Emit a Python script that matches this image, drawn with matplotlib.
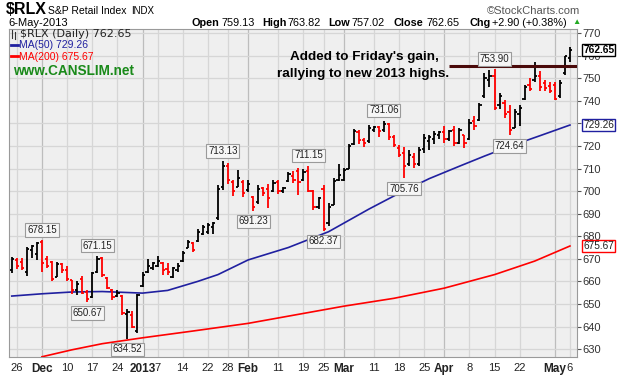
import numpy as np
import matplotlib
matplotlib.use('Agg')
import matplotlib.pyplot as plt
from matplotlib.lines import Line2D

plt.rcParams['font.family'] = ['Liberation Sans', 'DejaVu Sans']

# daily bars, Nov 23 2012 .. May 6 2013
dates = ['11-23', '11-26', '11-27', '11-28', '11-29', '11-30',
         '12-03', '12-04', '12-05', '12-06', '12-07', '12-10', '12-11', '12-12', '12-13', '12-14',
         '12-17', '12-18', '12-19', '12-20', '12-21', '12-24', '12-26', '12-27', '12-28', '12-31',
         '01-02', '01-03', '01-04', '01-07', '01-08', '01-09', '01-10', '01-11', '01-14', '01-15',
         '01-16', '01-17', '01-18', '01-22', '01-23', '01-24', '01-25', '01-28', '01-29', '01-30',
         '01-31', '02-01', '02-04', '02-05', '02-06', '02-07', '02-08', '02-11', '02-12', '02-13',
         '02-14', '02-15', '02-19', '02-20', '02-21', '02-22', '02-25', '02-26', '02-27', '02-28',
         '03-01', '03-04', '03-05', '03-06', '03-07', '03-08', '03-11', '03-12', '03-13', '03-14',
         '03-15', '03-18', '03-19', '03-20', '03-21', '03-22', '03-25', '03-26', '03-27', '03-28',
         '04-01', '04-02', '04-03', '04-04', '04-05', '04-08', '04-09', '04-10', '04-11', '04-12',
         '04-15', '04-16', '04-17', '04-18', '04-19', '04-22', '04-23', '04-24', '04-25', '04-26',
         '04-29', '04-30', '05-01', '05-02', '05-03', '05-06']

opens = [665.0, 669.5, 668.5, 664.0, 674.0, 672.0,
         677.5, 670.0, 668.5, 662.0, 667.5, 665.0, 660.5, 656.0, 661.0, 655.5,
         653.0, 664.0, 670.5, 661.5, 656.0, 653.5, 653.5, 645.5, 645.0, 638.0,
         658.0, 664.0, 666.0, 667.0, 668.0, 665.5, 662.0, 665.0, 669.0, 675.0,
         677.0, 678.0, 681.0, 682.0, 684.0, 688.0, 702.0, 711.0, 704.0, 702.0,
         704.0, 700.5, 697.5, 695.0, 701.5, 701.0, 700.0, 704.0, 700.0, 704.5,
         706.5, 709.0, 705.0, 709.0, 700.0, 693.0, 701.0, 686.0, 694.0, 705.0,
         705.0, 710.0, 721.0, 726.0, 722.5, 722.0, 727.0, 728.5, 727.0, 729.5,
         724.0, 719.0, 717.0, 712.0, 715.0, 712.0, 718.5, 722.0, 723.0, 725.0,
         726.0, 723.0, 727.0, 721.5, 725.0, 723.0, 731.0, 731.5, 742.0, 749.0,
         751.0, 738.0, 739.0, 735.0, 728.0, 734.0, 741.0, 747.0, 749.0, 751.0,
         748.0, 746.5, 747.0, 742.0, 752.5, 759.13]

highs = [670.9, 670.5, 670.5, 675.4, 676.0, 677.5,
         678.15, 671.2, 669.0, 668.5, 668.0, 667.0, 660.8, 660.0, 662.2, 656.0,
         664.3, 671.15, 671.0, 662.0, 656.7, 656.3, 654.0, 647.7, 647.0, 654.6,
         664.3, 669.8, 668.5, 671.2, 668.5, 668.0, 666.4, 668.0, 673.3, 678.15,
         677.5, 683.0, 685.0, 685.8, 686.5, 702.6, 713.13, 712.5, 705.0, 709.4,
         705.0, 704.8, 698.0, 702.6, 701.8, 703.3, 704.8, 704.8, 702.0, 708.6,
         709.0, 710.4, 709.6, 711.15, 700.5, 697.5, 702.8, 694.5, 705.8, 711.9,
         710.4, 721.0, 727.5, 727.0, 723.5, 729.3, 729.0, 729.0, 731.06, 730.0,
         725.0, 720.4, 719.6, 718.0, 717.0, 719.6, 725.5, 725.0, 726.5, 726.5,
         728.8, 727.0, 729.0, 728.0, 725.0, 731.8, 733.4, 739.0, 752.3, 753.5,
         753.9, 743.6, 740.4, 738.1, 736.5, 738.0, 746.8, 749.9, 757.0, 753.0,
         749.0, 748.4, 748.4, 749.0, 760.0, 763.82]

lows = [663.6, 665.7, 665.0, 662.2, 670.5, 669.5,
        664.3, 666.0, 660.0, 662.0, 663.5, 660.0, 654.6, 654.0, 654.6, 650.67,
        652.5, 663.6, 662.0, 656.5, 651.8, 653.2, 645.0, 634.52, 639.4, 637.3,
        657.4, 663.6, 665.0, 666.4, 663.0, 663.0, 661.5, 664.0, 668.5, 674.7,
        673.0, 677.5, 680.5, 681.0, 681.0, 687.0, 700.3, 703.3, 698.0, 701.8,
        697.3, 699.5, 691.23, 694.2, 698.0, 692.7, 699.5, 698.8, 699.0, 704.0,
        703.6, 698.3, 704.3, 699.8, 691.5, 692.2, 682.37, 684.6, 693.7, 704.3,
        704.3, 709.6, 720.5, 721.0, 719.5, 721.5, 726.0, 724.0, 726.0, 722.6,
        719.6, 715.0, 705.76, 711.0, 710.4, 711.0, 717.0, 718.0, 721.0, 723.0,
        721.5, 722.0, 720.0, 721.0, 719.0, 722.5, 727.2, 731.0, 741.2, 746.0,
        735.7, 736.5, 732.5, 724.64, 727.8, 729.0, 740.4, 744.4, 748.4, 744.4,
        744.4, 743.6, 740.4, 741.2, 751.5, 757.02]

closes = [670.0, 667.0, 666.0, 674.5, 675.5, 677.0,
          668.0, 667.0, 661.0, 667.5, 665.0, 661.0, 656.0, 659.0, 655.0, 652.0,
          663.5, 670.0, 663.0, 657.0, 653.0, 655.0, 646.0, 646.5, 640.0, 654.0,
          663.0, 667.0, 668.0, 669.0, 665.0, 664.0, 666.0, 667.0, 672.5, 677.5,
          674.0, 682.0, 684.0, 685.0, 686.0, 701.0, 711.0, 705.0, 700.0, 706.0,
          699.0, 703.0, 693.0, 701.0, 699.0, 697.0, 703.5, 700.0, 701.5, 707.5,
          705.0, 704.0, 708.5, 700.0, 693.0, 697.0, 683.0, 693.0, 704.5, 707.0,
          709.5, 720.0, 726.5, 722.5, 721.5, 728.0, 728.5, 726.5, 729.5, 724.0,
          720.5, 716.0, 711.0, 716.0, 712.0, 718.0, 723.5, 724.0, 725.5, 726.0,
          723.0, 726.5, 721.5, 727.0, 721.5, 730.0, 729.0, 738.0, 750.0, 751.0,
          737.0, 742.0, 734.0, 727.0, 735.0, 737.0, 746.0, 745.0, 751.0, 746.0,
          745.5, 744.5, 741.0, 748.0, 759.75, 762.65]

# moving averages at a few bars (bar index, 0 = Dec 3)
ma50_idx = [-6, 0, 6, 12, 20, 25, 31, 35, 41, 49, 57, 65, 71, 77, 83, 88, 93, 99, 105]
ma50_val = [653.5, 654.5, 655.3, 655.5, 654.8, 656.0, 660.0, 663.0, 669.5, 675.0,
            682.0, 692.0, 699.0, 705.5, 711.0, 715.5, 719.8, 724.5, 729.26]
ma200_idx = [0, 6, 12, 20, 30, 41, 51, 60, 70, 80, 90, 98, 105]
ma200_val = [626.6, 629.7, 632.4, 635.0, 638.0, 641.4, 645.4, 649.0, 652.5, 657.0,
             663.0, 669.0, 675.67]

tick_idx = [-5, 0, 5, 10, 15, 20, 23, 28, 33, 37, 41, 47, 52, 56, 60, 66, 71, 76,
            80, 85, 90, 95, 102, 105]
tick_lbl = ['26', 'Dec', '10', '17', '24', '2013', '7', '14', '22', '28', 'Feb', '11',
            '19', '25', 'Mar', '11', '18', '25', 'Apr', '8', '15', '22', 'May', '6']
month_lbl = ['Dec', '2013', 'Feb', 'Mar', 'Apr', 'May']

# labelled highs / lows
piv_idx = [0, 11, 9, 17, 36, 42, 53, 56, 68, 72, 90, 93]
piv_val = [678.15, 671.15, 650.67, 634.52, 713.13, 691.23, 711.15, 682.37, 731.06,
           705.76, 753.90, 724.64]
piv_top = [True, True, False, False, True, False, True, False, True, False, True, False]

resist = 755.3

W, H = 618, 377
fig = plt.figure(figsize=(W / 100, H / 100), dpi=100)
fig.patch.set_facecolor('white')


def fx(px):
    return px / W


def fy(py):
    return 1 - py / H


ax = fig.add_axes([fx(9), fy(357), fx(577) - fx(9), fy(29) - fy(357)])
ax.set_facecolor('#efefef')

x = np.arange(len(closes)) - 6
o = np.array(opens)
h = np.array(highs)
l = np.array(lows)
c = np.array(closes)
prev = np.concatenate([[c[0] - 1], c[:-1]])
cols = np.where(c < prev, '#ff0000', '#000000')

ax.set_xlim(-6.55, 106.4)
ax.set_ylim(626.5, 771.8)

for t, lab in zip(tick_idx, tick_lbl):
    ax.axvline(t, color='#bdbdbd' if lab in month_lbl else '#d6d6d6', lw=0.9, zorder=0)
for v in range(630, 771, 10):
    ax.axhline(v, color='#d6d6d6', lw=0.9, zorder=0)

ax.plot(ma200_idx, ma200_val, color='#ff0000', lw=1.2, zorder=2)
ax.plot(ma50_idx, ma50_val, color='#2020a0', lw=1.2, zorder=2)

ax.vlines(x, l, h, colors=cols, lw=1.3, zorder=3)
ax.hlines(o, x - 0.45, x, colors=cols, lw=1.3, zorder=3)
ax.hlines(c, x, x + 0.45, colors=cols, lw=1.3, zorder=3)

ax.plot([81, 106.4], [resist, resist], color='#4a0a0a', lw=2.2, zorder=4,
        solid_capstyle='butt')

for i, v, top in zip(piv_idx, piv_val, piv_top):
    ax.annotate(f'{v:.2f}', xy=(i, v), xytext=(0, 4 if top else -4),
                textcoords='offset points', ha='center',
                va='bottom' if top else 'top', fontsize=7, color='#222222',
                bbox=dict(boxstyle='square,pad=0.18', fc='#f6f6f6', ec='#9a9a9a', lw=0.8),
                zorder=5, annotation_clip=False)

ax.yaxis.tick_right()
yt = list(range(630, 771, 10))
ax.set_yticks(yt)
# 730 sits under the MA(50) value box in the original
ax.set_yticklabels(['' if v == 730 else str(v) for v in yt])
ax.tick_params(axis='y', length=3, width=0.8, colors='#555555', labelsize=8,
               labelcolor='#333333', pad=1)
ax.set_xticks(tick_idx)
ax.set_xticklabels(tick_lbl)
ax.tick_params(axis='x', length=0, labelsize=8, labelcolor='#222222', pad=4)
for t in ax.get_xticklabels():
    if t.get_text() in month_lbl:
        t.set_fontweight('bold')
        t.set_fontsize(8.5)
for s in ax.spines.values():
    s.set_color('#9a9a9a')
    s.set_linewidth(0.8)

# last value boxes on the price axis
for v, col, bold in [(762.65, '#000000', True), (729.26, '#2020a0', False),
                     (675.67, '#ff0000', False)]:
    ax.annotate(f'{v:.2f}', xy=(1.0, v), xycoords=('axes fraction', 'data'),
                xytext=(4.5, 0), textcoords='offset points', ha='left', va='center',
                fontsize=7.3, color='#000000' if bold else '#222222',
                fontweight='bold' if bold else 'normal',
                bbox=dict(boxstyle='square,pad=0.1', fc='white', ec=col, lw=1.0),
                zorder=6, annotation_clip=False)

# header
fig.text(fx(6), fy(10), '$RLX', fontsize=11.5, fontweight='bold', va='center',
         family=['Liberation Sans Narrow', 'Liberation Sans'])
fig.text(fx(48), fy(11), 'S&P Retail Index', fontsize=7.5, va='center')
fig.text(fx(131), fy(11), 'INDX', fontsize=7, va='center')
fig.text(fx(580), fy(11), '\u00a9StockCharts.com', fontsize=8, va='center', ha='right',
         color='#555555')
fig.text(fx(8), fy(23), '6-May-2013', fontsize=8, va='center')
hdr = [(192, 'Open', True), (221, '759.13', False), (262, 'High', True), (287, '763.82', False),
       (328, 'Low', True), (352, '757.02', False), (394, 'Close', True), (427, '762.65', False),
       (469, 'Chg', True), (492, '+2.90 (+0.38%)', False)]
for px, s, b in hdr:
    fig.text(fx(px), fy(23), s, fontsize=7.8, va='center', fontweight='bold' if b else 'normal')
fig.text(fx(572), fy(23), '\u25b2', fontsize=6, va='center', color='#22aa22')

# legend inside the plot
for dx, y0, y1 in [(12, 30, 38), (15, 32, 39)]:
    fig.add_artist(Line2D([fx(dx), fx(dx)], [fy(y0), fy(y1)], color='#333333', lw=0.8))
fig.text(fx(20), fy(34), '$RLX (Daily) 762.65', fontsize=8, va='center',
         family=['DejaVu Sans'], color='#222222')
fig.add_artist(Line2D([fx(11), fx(18)], [fy(45), fy(45)], color='#2020a0', lw=2))
fig.text(fx(19), fy(45.5), 'MA(50) 729.26', fontsize=7.5, va='center', color='#2020a0')
fig.add_artist(Line2D([fx(11), fx(18)], [fy(56), fy(56)], color='#ff0000', lw=2))
fig.text(fx(19), fy(56.5), 'MA(200) 675.67', fontsize=7.5, va='center', color='#ff0000')
fig.text(fx(13), fy(71), 'www.CANSLIM.net', fontsize=9.8, fontweight='bold', va='center',
         color='#1a8a1a')

note_font = ['Liberation Sans Narrow', 'Liberation Sans']
fig.text(fx(364), fy(57), "Added to Friday's gain,", fontsize=9.7, fontweight='bold',
         ha='center', va='center', family=note_font)
fig.text(fx(363), fy(74), 'rallying to new 2013 highs.', fontsize=9.7, fontweight='bold',
         ha='center', va='center', family=note_font)

fig.savefig('out.png', dpi=100)
